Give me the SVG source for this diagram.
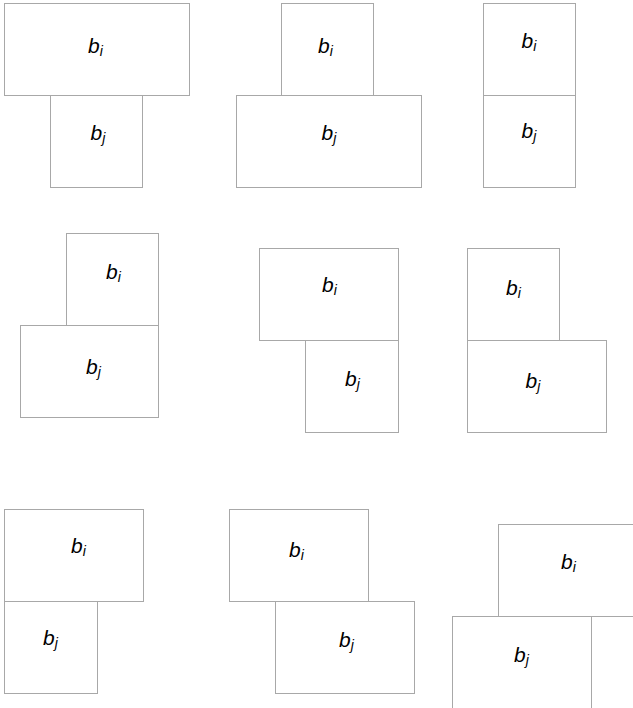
<svg xmlns="http://www.w3.org/2000/svg" width="633" height="708" viewBox="0 0 633 708">
<style>
rect{fill:#fff;stroke:#a8a8a8;stroke-width:1}
text{font-family:"Liberation Sans",Arial,sans-serif;font-style:italic;font-size:21px;fill:#000}
.s{font-size:14px}
</style>
<rect x="0" y="0" width="633" height="708" style="stroke:none"/>
<g id="case1">
<g id="c1-bi"><rect x="4.5" y="3.5" width="185" height="92"/><text x="88" y="53">b<tspan class="s" dy="3">i</tspan></text></g>
<g id="c1-bj"><rect x="50.5" y="95.5" width="92" height="92"/><text x="90.5" y="140">b<tspan class="s" dy="3">j</tspan></text></g>
</g>
<g id="case2">
<g id="c2-bi"><rect x="281.5" y="3.5" width="92" height="92"/><text x="318" y="53">b<tspan class="s" dy="3">i</tspan></text></g>
<g id="c2-bj"><rect x="236.5" y="95.5" width="185" height="92"/><text x="321.5" y="140">b<tspan class="s" dy="3">j</tspan></text></g>
</g>
<g id="case3">
<g id="c3-bi"><rect x="483.5" y="3.5" width="92" height="92"/><text x="521.5" y="48">b<tspan class="s" dy="3">i</tspan></text></g>
<g id="c3-bj"><rect x="483.5" y="95.5" width="92" height="92"/><text x="521.5" y="138">b<tspan class="s" dy="3">j</tspan></text></g>
</g>
<g id="case4">
<g id="c4-bi"><rect x="66.5" y="233.5" width="92" height="92"/><text x="106" y="279">b<tspan class="s" dy="3">i</tspan></text></g>
<g id="c4-bj"><rect x="20.5" y="325.5" width="138" height="92"/><text x="86" y="374">b<tspan class="s" dy="3">j</tspan></text></g>
</g>
<g id="case5">
<g id="c5-bi"><rect x="259.5" y="248.5" width="139" height="92"/><text x="322" y="291.5">b<tspan class="s" dy="3">i</tspan></text></g>
<g id="c5-bj"><rect x="305.5" y="340.5" width="93" height="92"/><text x="345" y="386">b<tspan class="s" dy="3">j</tspan></text></g>
</g>
<g id="case6">
<g id="c6-bi"><rect x="467.5" y="248.5" width="92" height="92"/><text x="506" y="295">b<tspan class="s" dy="3">i</tspan></text></g>
<g id="c6-bj"><rect x="467.5" y="340.5" width="139" height="92"/><text x="525.5" y="388">b<tspan class="s" dy="3">j</tspan></text></g>
</g>
<g id="case7">
<g id="c7-bi"><rect x="4.5" y="509.5" width="139" height="92"/><text x="71" y="553">b<tspan class="s" dy="3">i</tspan></text></g>
<g id="c7-bj"><rect x="4.5" y="601.5" width="93" height="92"/><text x="43" y="645">b<tspan class="s" dy="3">j</tspan></text></g>
</g>
<g id="case8">
<g id="c8-bi"><rect x="229.5" y="509.5" width="139" height="92"/><text x="289" y="556.5">b<tspan class="s" dy="3">i</tspan></text></g>
<g id="c8-bj"><rect x="275.5" y="601.5" width="139" height="92"/><text x="339" y="647">b<tspan class="s" dy="3">j</tspan></text></g>
</g>
<g id="case9">
<g id="c9-bi"><rect x="498.5" y="524.5" width="185" height="92"/><text x="561" y="569">b<tspan class="s" dy="3">i</tspan></text></g>
<g id="c9-bj"><rect x="452.5" y="616.5" width="139" height="92"/><text x="514" y="662">b<tspan class="s" dy="3">j</tspan></text></g>
</g>
<g id="connectors"/>
</svg>
